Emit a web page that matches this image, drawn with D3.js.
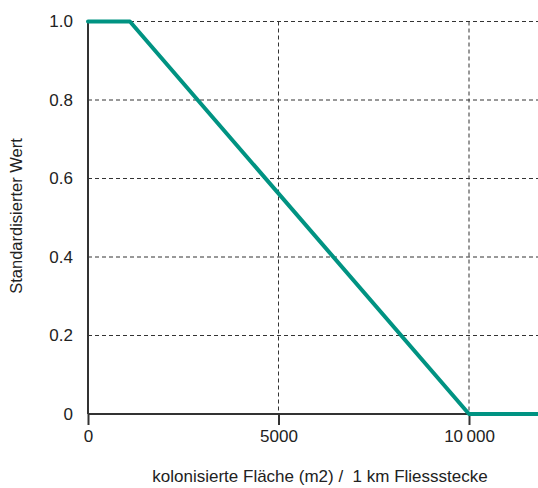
<!DOCTYPE html>
<html><head><meta charset="utf-8">
<script src="https://cdn.jsdelivr.net/npm/d3@7"></script>
<style>body{margin:0;background:#fff}svg{display:block;font-family:"Liberation Sans",Arial,sans-serif}</style>
</head><body><svg id="c" width="538" height="488"></svg>
<script>
const xs = [0, 1100, 10000, 12000];
const ys = [1, 1, 0, 0];
const xTicks = [0, 5000, 10000];
const xTickLabels = ["0", "5000", "10\u2009000"];
const yTicks = [0, 0.2, 0.4, 0.6, 0.8, 1.0];
const yTickLabels = ["0", "0.2", "0.4", "0.6", "0.8", "1.0"];
const xTitle = "kolonisierte Fläche (m2) /  1 km Fliessstecke";
const yTitle = "Standardisierter Wert";

const svg = d3.select("#c");
const L = 88, R = 538, T = 21.5, B = 414;
const x = d3.scaleLinear().domain([0, 10000]).range([L, 469]);
const y = d3.scaleLinear().domain([0, 1]).range([B, T]);
const gridC = "#333";
const FS = 17;

// grid
svg.append("g").selectAll("line").data(yTicks.filter(d => d > 0)).join("line")
  .attr("x1", L).attr("x2", R).attr("y1", d => y(d)).attr("y2", d => y(d))
  .attr("stroke", gridC).attr("stroke-width", 1).attr("stroke-dasharray", "4,3");
svg.append("g").selectAll("line").data(xTicks.filter(d => d > 0)).join("line")
  .attr("x1", d => x(d)).attr("x2", d => x(d)).attr("y1", T).attr("y2", B)
  .attr("stroke", gridC).attr("stroke-width", 1).attr("stroke-dasharray", "4,3");

// x axis
const xa = svg.append("g").attr("transform", `translate(0,${B})`)
  .call(d3.axisBottom(x).tickValues(xTicks).tickSize(11).tickPadding(5)
    .tickFormat((d, i) => xTickLabels[i]));
xa.select(".domain").remove();
xa.attr("font-size", FS).attr("font-family", "Liberation Sans, Arial");
xa.selectAll(".tick line").attr("stroke", "#333").attr("stroke-width", 2);
xa.selectAll("text").attr("fill", "#222");
svg.append("line").attr("x1", L).attr("x2", R).attr("y1", B).attr("y2", B).attr("stroke", "#333").attr("stroke-width", 2);

// y axis
const ya = svg.append("g").attr("transform", `translate(${L},0)`)
  .call(d3.axisLeft(y).tickValues(yTicks).tickSize(0).tickPadding(15)
    .tickFormat((d, i) => yTickLabels[i]));
ya.select(".domain").remove();
ya.attr("font-size", FS).attr("font-family", "Liberation Sans, Arial");
ya.selectAll("text").attr("fill", "#222");
svg.append("line").attr("x1", L).attr("x2", L).attr("y1", T).attr("y2", B).attr("stroke", "#333").attr("stroke-width", 2);

// line
svg.append("clipPath").attr("id", "clip").append("rect").attr("x", 0).attr("y", 0).attr("width", R).attr("height", 488);
svg.append("path").datum(xs.map((v, i) => [v, ys[i]]))
  .attr("clip-path", "url(#clip)")
  .attr("d", d3.line().x(d => x(d[0])).y(d => y(d[1])))
  .attr("fill", "none").attr("stroke", "#009382").attr("stroke-width", 4)
  .attr("stroke-linejoin", "round").attr("stroke-linecap", "round");

// titles
svg.append("text").attr("x", 320).attr("y", 482).attr("text-anchor", "middle")
  .style("white-space", "pre")
  .attr("font-size", FS).attr("fill", "#222").text(xTitle);
svg.append("text").attr("transform", `translate(22,${216}) rotate(-90)`).attr("text-anchor", "middle")
  .attr("font-size", 16.5).attr("fill", "#222").text(yTitle);
</script></body></html>
